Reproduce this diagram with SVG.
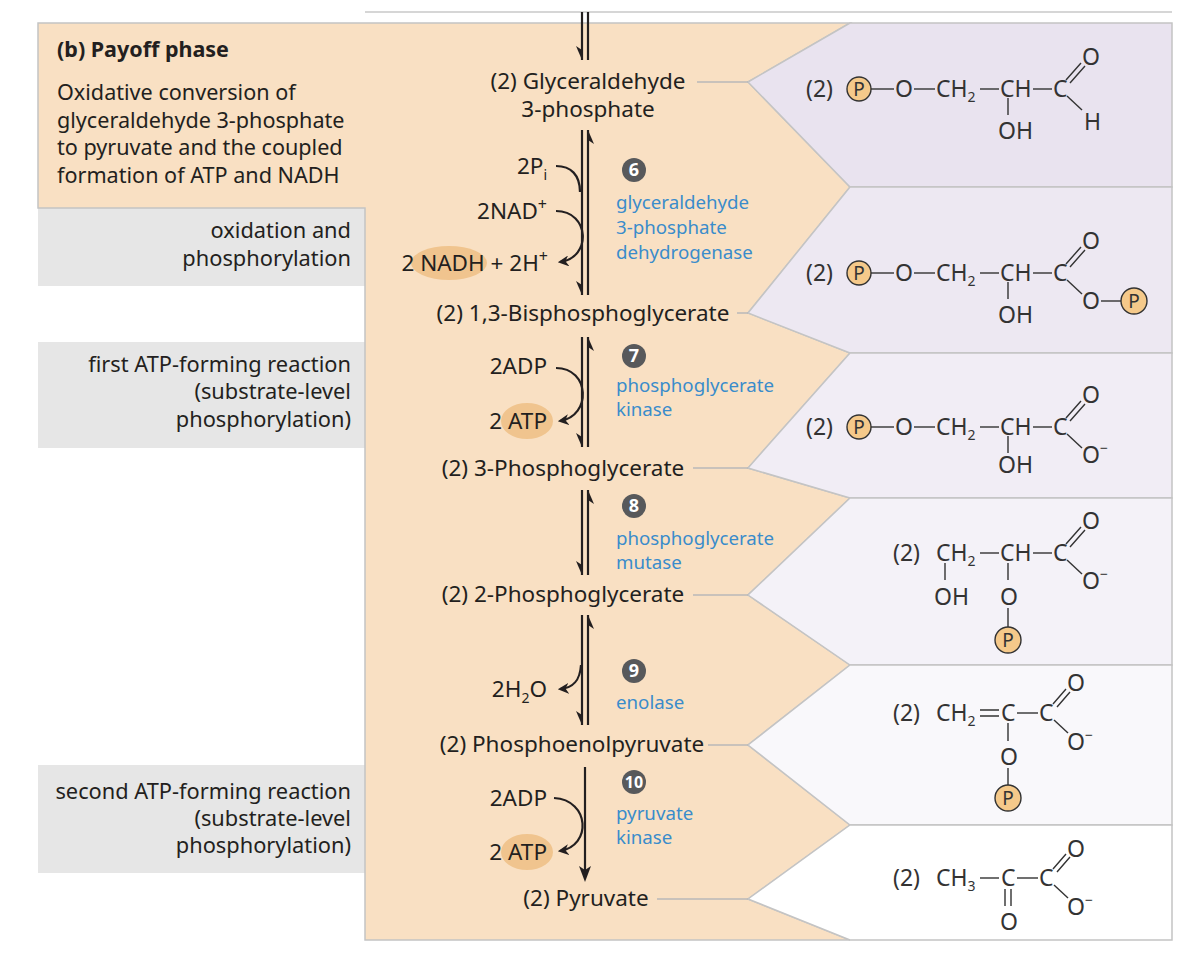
<svg xmlns="http://www.w3.org/2000/svg" width="1202" height="960" viewBox="0 0 1202 960">
<defs>
<style>
text{font-family:"Noto Sans","Open Sans",sans-serif;fill:#231f20}
.c{font-size:22.5px}
.g{font-size:21.8px;text-anchor:end}
.e{font-size:18.7px;fill:#3a8ccb}
.s{font-size:23px;fill:#333}
.sb{font-size:14px;fill:#333}
.row{stroke:#c4c4c4;stroke-width:1.5}
.bd{stroke:#333;stroke-width:1.4;fill:none}
.ar{stroke:#231f20;stroke-width:2.2;fill:none}
.p{fill:#f5c98a;stroke:#333;stroke-width:1.4}
.ov{fill:#f0c48e}
.num{fill:#58595b}
.nt{font-size:18px;font-weight:bold;fill:#fff;text-anchor:middle}
.lk{stroke:#b8b8b8;stroke-width:1.5}
.pt{font-size:19px;fill:#333;text-anchor:middle}
</style>
<marker id="ah" viewBox="0 0 10 10" refX="8" refY="5" markerWidth="5" markerHeight="5" orient="auto"><path d="M0,0 L10,5 L0,10 L3,5 z" fill="#231f20"/></marker>
</defs>
<rect width="1202" height="960" fill="#fff"/>
<line x1="365" y1="12" x2="1172" y2="12" stroke="#c8c8c8" stroke-width="1.5"/>
<g id="left-boxes">
<rect x="38" y="208" width="327" height="78" fill="#e6e6e6"/>
<rect x="38" y="342" width="327" height="106" fill="#e6e6e6"/>
<rect x="38" y="765" width="327" height="108" fill="#e6e6e6"/>
</g>
<g id="peach">
<polygon points="38,23 850,23 748,82 850,187 748,313 850,353 748,468 850,498 748,595 850,665 748,745 850,825 748,899 850,940 365,940 365,208 38,208" fill="#f9e0c3" stroke="#c4c4c4" stroke-width="1.5"/>
</g>
<g id="panel">
<polygon class="row" points="850,23 1172,23 1172,187 850,187 748,82" fill="#e9e3ef"/>
<polygon class="row" points="850,187 1172,187 1172,353 850,353 748,313" fill="#ede8f2"/>
<polygon class="row" points="850,353 1172,353 1172,498 850,498 748,468" fill="#f1edf5"/>
<polygon class="row" points="850,498 1172,498 1172,665 850,665 748,595" fill="#f4f2f8"/>
<polygon class="row" points="850,665 1172,665 1172,825 850,825 748,745" fill="#f9f8fb"/>
<polygon class="row" points="850,825 1172,825 1172,940 850,940 748,899" fill="#ffffff"/>
</g>
<g id="header">
<text x="57" y="57" style="font-size:21.5px;font-weight:bold">(b)  Payoff phase</text>
<text x="57" y="100" style="font-size:21.6px">Oxidative conversion of</text>
<text x="57" y="128" style="font-size:21.6px">glyceraldehyde 3-phosphate</text>
<text x="57" y="155" style="font-size:21.6px">to pyruvate and the coupled</text>
<text x="57" y="183" style="font-size:21.6px">formation of ATP and NADH</text>
</g>
<g id="left-labels">
<text class="g" x="351" y="238">oxidation and</text>
<text class="g" x="351" y="266">phosphorylation</text>
<text class="g" x="351" y="372">first ATP-forming reaction</text>
<text class="g" x="351" y="399">(substrate-level</text>
<text class="g" x="351" y="427">phosphorylation)</text>
<text class="g" x="351" y="799">second ATP-forming reaction</text>
<text class="g" x="351" y="826">(substrate-level</text>
<text class="g" x="351" y="853">phosphorylation)</text>
</g>
<g id="connectors">
<line class="lk" x1="697" y1="82" x2="748" y2="82"/>
<line class="lk" x1="737" y1="313" x2="748" y2="313"/>
<line class="lk" x1="693" y1="468" x2="748" y2="468"/>
<line class="lk" x1="693" y1="595" x2="748" y2="595"/>
<line class="lk" x1="708" y1="745" x2="748" y2="745"/>
<line class="lk" x1="657" y1="899" x2="748" y2="899"/>
<line class="ar" x1="582" y1="12" x2="582" y2="60"/><line class="ar" x1="588" y1="12" x2="588" y2="60"/>
<polygon points="582,60 576,46 582,50" fill="#231f20"/>
<line class="ar" x1="582" y1="130" x2="582" y2="295"/><line class="ar" x1="588" y1="130" x2="588" y2="295"/>
<polygon points="582,295 576,281 582,285" fill="#231f20"/><polygon points="588,130 594,144 588,140" fill="#231f20"/>
<path class="ar" d="M556,166 C571,166 580,175 580,192"/>
<path class="ar" d="M556,211 C590,211 592,258 560,262" marker-end="url(#ah)"/>
<line class="ar" x1="582" y1="337" x2="582" y2="447"/><line class="ar" x1="588" y1="337" x2="588" y2="447"/>
<polygon points="582,447 576,433 582,437" fill="#231f20"/><polygon points="588,337 594,351 588,347" fill="#231f20"/>
<path class="ar" d="M556,368 C590,368 592,416 560,421" marker-end="url(#ah)"/>
<line class="ar" x1="582" y1="490" x2="582" y2="575"/><line class="ar" x1="588" y1="490" x2="588" y2="575"/>
<polygon points="582,575 576,561 582,565" fill="#231f20"/><polygon points="588,490 594,504 588,500" fill="#231f20"/>
<line class="ar" x1="582" y1="615" x2="582" y2="725"/><line class="ar" x1="588" y1="615" x2="588" y2="725"/>
<polygon points="582,725 576,711 582,715" fill="#231f20"/><polygon points="588,615 594,629 588,625" fill="#231f20"/>
<path class="ar" d="M581,665 C580,680 574,688 560,689" marker-end="url(#ah)"/>
<line class="ar" x1="585" y1="767" x2="585" y2="872"/>
<polygon points="585,882 579,866 585,870 591,866" fill="#231f20"/>
<path class="ar" d="M554,798 C590,800 592,846 560,851" marker-end="url(#ah)"/>
</g>
<g id="metabolites">
<text class="c" x="588" y="89" text-anchor="middle">(2) Glyceraldehyde</text>
<text class="c" x="588" y="117" text-anchor="middle">3-phosphate</text>
<text class="c" x="583" y="321" text-anchor="middle">(2) 1,3-Bisphosphoglycerate</text>
<text class="c" x="563" y="476" text-anchor="middle">(2) 3-Phosphoglycerate</text>
<text class="c" x="563" y="602" text-anchor="middle">(2) 2-Phosphoglycerate</text>
<text class="c" x="572" y="752" text-anchor="middle">(2) Phosphoenolpyruvate</text>
<text class="c" x="586" y="906" text-anchor="middle">(2) Pyruvate</text>
</g>
<g id="cofactors">
<ellipse class="ov" cx="449" cy="263" rx="38" ry="17"/>
<ellipse class="ov" cx="527" cy="421" rx="26" ry="18"/>
<ellipse class="ov" cx="527" cy="852" rx="26" ry="18"/>
<text class="c" x="547" y="174" text-anchor="end">2P<tspan font-size="14" dy="6">i</tspan></text>
<text class="c" x="547" y="219" text-anchor="end">2NAD<tspan font-size="16" dy="-9">+</tspan></text>
<text class="c" x="548" y="271" text-anchor="end">2 NADH + 2H<tspan font-size="16" dy="-9">+</tspan></text>
<text class="c" x="547" y="374" text-anchor="end">2ADP</text>
<text class="c" x="547" y="429" text-anchor="end">2 ATP</text>
<text class="c" x="547" y="697" text-anchor="end">2H<tspan font-size="14" dy="6">2</tspan><tspan dy="-6">O</tspan></text>
<text class="c" x="547" y="806" text-anchor="end">2ADP</text>
<text class="c" x="547" y="860" text-anchor="end">2 ATP</text>
</g>
<g id="enzymes">
<circle class="num" cx="634" cy="170" r="12"/><text class="nt" x="634" y="176">6</text>
<text class="e" x="616" y="209">glyceraldehyde</text><text class="e" x="616" y="234">3-phosphate</text><text class="e" x="616" y="259">dehydrogenase</text>
<circle class="num" cx="634" cy="356" r="12"/><text class="nt" x="634" y="362">7</text>
<text class="e" x="616" y="392">phosphoglycerate</text><text class="e" x="616" y="416">kinase</text>
<circle class="num" cx="634" cy="506" r="12"/><text class="nt" x="634" y="512">8</text>
<text class="e" x="616" y="545">phosphoglycerate</text><text class="e" x="616" y="569">mutase</text>
<circle class="num" cx="634" cy="671" r="12"/><text class="nt" x="634" y="677">9</text>
<text class="e" x="616" y="709">enolase</text>
<circle class="num" cx="634" cy="782" r="12"/><text class="nt" x="634" y="788" style="font-size:16px">10</text>
<text class="e" x="616" y="820">pyruvate</text><text class="e" x="616" y="844">kinase</text>
</g>
<g id="struct1">
<text class="s" x="806" y="97">(2)</text>
<circle class="p" cx="859" cy="89" r="12"/><text class="pt" x="859" y="96">P</text>
<line class="bd" x1="871" y1="89" x2="894" y2="89"/>
<text class="s" x="895" y="97">O</text>
<line class="bd" x1="914" y1="89" x2="935" y2="89"/>
<text class="s" x="936" y="97">CH<tspan class="sb" dy="5">2</tspan></text>
<line class="bd" x1="980" y1="89" x2="999" y2="89"/>
<text class="s" x="1000" y="97">CH</text>
<line class="bd" x1="1033" y1="89" x2="1052" y2="89"/>
<text class="s" x="1053" y="97">C</text>
<path class="bd" d="M1066,80 L1081,63 M1070,83 L1085,66"/>
<text class="s" x="1082" y="65">O</text>
<line class="bd" x1="1067" y1="96" x2="1082" y2="110"/>
<text class="s" x="1084" y="130">H</text>
<line class="bd" x1="1008" y1="98" x2="1008" y2="115"/>
<text class="s" x="998" y="139">OH</text>
</g>
<g id="struct2">
<text class="s" x="806" y="281">(2)</text>
<circle class="p" cx="859" cy="273" r="12"/><text class="pt" x="859" y="280">P</text>
<line class="bd" x1="871" y1="273" x2="894" y2="273"/>
<text class="s" x="895" y="281">O</text>
<line class="bd" x1="914" y1="273" x2="935" y2="273"/>
<text class="s" x="936" y="281">CH<tspan class="sb" dy="5">2</tspan></text>
<line class="bd" x1="980" y1="273" x2="999" y2="273"/>
<text class="s" x="1000" y="281">CH</text>
<line class="bd" x1="1033" y1="273" x2="1052" y2="273"/>
<text class="s" x="1053" y="281">C</text>
<path class="bd" d="M1066,264 L1081,247 M1070,267 L1085,250"/>
<text class="s" x="1082" y="249">O</text>
<line class="bd" x1="1067" y1="280" x2="1082" y2="294"/>
<text class="s" x="1082" y="309">O</text>
<line class="bd" x1="1101" y1="301" x2="1121" y2="301"/>
<circle class="p" cx="1134" cy="301" r="13"/><text class="pt" x="1134" y="308">P</text>
<line class="bd" x1="1008" y1="282" x2="1008" y2="299"/>
<text class="s" x="998" y="323">OH</text>
</g>
<g id="struct3">
<text class="s" x="806" y="435">(2)</text>
<circle class="p" cx="859" cy="427" r="12"/><text class="pt" x="859" y="434">P</text>
<line class="bd" x1="871" y1="427" x2="894" y2="427"/>
<text class="s" x="895" y="435">O</text>
<line class="bd" x1="914" y1="427" x2="935" y2="427"/>
<text class="s" x="936" y="435">CH<tspan class="sb" dy="5">2</tspan></text>
<line class="bd" x1="980" y1="427" x2="999" y2="427"/>
<text class="s" x="1000" y="435">CH</text>
<line class="bd" x1="1033" y1="427" x2="1052" y2="427"/>
<text class="s" x="1053" y="435">C</text>
<path class="bd" d="M1066,418 L1081,401 M1070,421 L1085,404"/>
<text class="s" x="1082" y="403">O</text>
<line class="bd" x1="1067" y1="434" x2="1082" y2="448"/>
<text class="s" x="1082" y="463">O<tspan class="sb" dy="-10">−</tspan></text>
<line class="bd" x1="1008" y1="436" x2="1008" y2="453"/>
<text class="s" x="998" y="473">OH</text>
</g>
<g id="struct4">
<text class="s" x="893" y="561">(2)</text>
<text class="s" x="936" y="561">CH<tspan class="sb" dy="5">2</tspan></text>
<line class="bd" x1="980" y1="553" x2="999" y2="553"/>
<text class="s" x="1000" y="561">CH</text>
<line class="bd" x1="1033" y1="553" x2="1052" y2="553"/>
<text class="s" x="1053" y="561">C</text>
<path class="bd" d="M1066,544 L1081,527 M1070,547 L1085,530"/>
<text class="s" x="1082" y="529">O</text>
<line class="bd" x1="1067" y1="560" x2="1082" y2="574"/>
<text class="s" x="1082" y="589">O<tspan class="sb" dy="-10">−</tspan></text>
<line class="bd" x1="945" y1="563" x2="945" y2="580"/>
<text class="s" x="934" y="605">OH</text>
<line class="bd" x1="1008" y1="563" x2="1008" y2="580"/>
<text class="s" x="1000" y="605">O</text>
<line class="bd" x1="1008" y1="608" x2="1008" y2="627"/>
<circle class="p" cx="1008" cy="640" r="13"/><text class="pt" x="1008" y="647">P</text>
</g>
<g id="struct5">
<text class="s" x="893" y="721">(2)</text>
<text class="s" x="936" y="721">CH<tspan class="sb" dy="5">2</tspan></text>
<path class="bd" d="M980,710 L999,710 M980,716 L999,716"/>
<text class="s" x="1001" y="721">C</text>
<line class="bd" x1="1017" y1="713" x2="1038" y2="713"/>
<text class="s" x="1039" y="721">C</text>
<path class="bd" d="M1053,704 L1066,689 M1057,707 L1070,692"/>
<text class="s" x="1067" y="691">O</text>
<line class="bd" x1="1054" y1="720" x2="1068" y2="733"/>
<text class="s" x="1067" y="750">O<tspan class="sb" dy="-10">−</tspan></text>
<line class="bd" x1="1008" y1="723" x2="1008" y2="741"/>
<text class="s" x="1000" y="765">O</text>
<line class="bd" x1="1008" y1="768" x2="1008" y2="785"/>
<circle class="p" cx="1008" cy="798" r="13"/><text class="pt" x="1008" y="805">P</text>
</g>
<g id="struct6">
<text class="s" x="893" y="886">(2)</text>
<text class="s" x="936" y="886">CH<tspan class="sb" dy="5">3</tspan></text>
<line class="bd" x1="980" y1="878" x2="999" y2="878"/>
<text class="s" x="1001" y="886">C</text>
<line class="bd" x1="1017" y1="878" x2="1038" y2="878"/>
<text class="s" x="1039" y="886">C</text>
<path class="bd" d="M1053,869 L1066,854 M1057,872 L1070,857"/>
<text class="s" x="1067" y="857">O</text>
<line class="bd" x1="1054" y1="885" x2="1068" y2="898"/>
<text class="s" x="1067" y="915">O<tspan class="sb" dy="-10">−</tspan></text>
<path class="bd" d="M1005,889 L1005,906 M1011,889 L1011,906"/>
<text class="s" x="1000" y="930">O</text>
</g>
</svg>
